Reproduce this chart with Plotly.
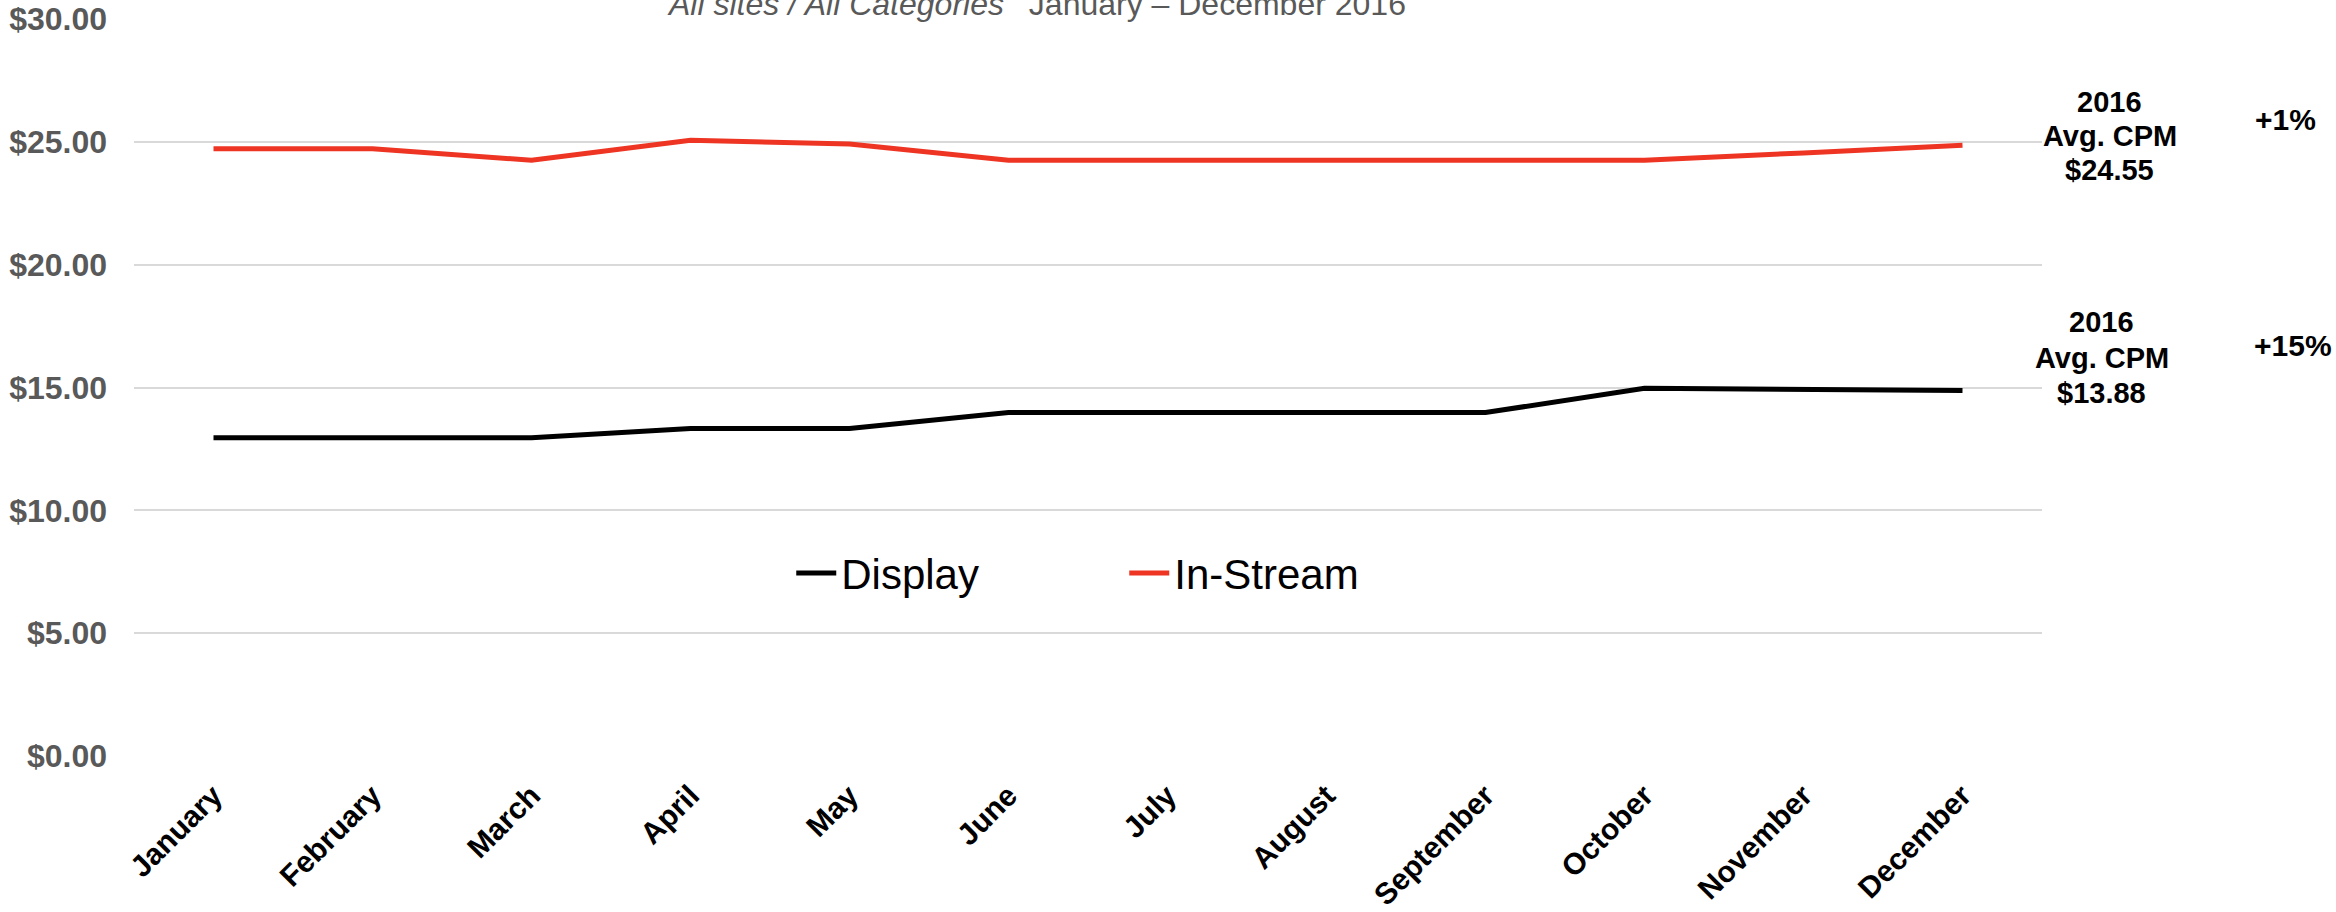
import plotly.graph_objects as go

months = ["January", "February", "March", "April", "May", "June", "July",
          "August", "September", "October", "November", "December"]
display_cpm = [12.95, 12.95, 12.95, 13.33, 13.33, 13.98, 13.98, 13.98, 13.98, 14.97, 14.95, 14.88]
instream_cpm = [24.72, 24.72, 24.25, 25.06, 24.91, 24.25, 24.25, 24.25, 24.25, 24.25, 24.55, 24.86]
avg_labels = ["$24.55", "$13.88"]
change_labels = ["+1%", "+15%"]
year_label = "2016"
avg_caption = "Avg. CPM"
title_italic = "All sites / All Categories’"
title_rest = "  January – December 2016"

FONT = "Liberation Sans, Arial, sans-serif"

fig = go.Figure()
fig.add_trace(go.Scatter(x=months, y=display_cpm, mode="lines", name="Display",
                         line=dict(color="#000000", width=5)))
fig.add_trace(go.Scatter(x=months, y=instream_cpm, mode="lines", name="In-Stream",
                         line=dict(color="#EE3524", width=5)))

annos = []
# title (partly cut off at top, as in reference)
annos.append(dict(xref="paper", yref="paper", x=0.473, y=1.0, xanchor="center", yanchor="bottom",
                  text=f"<i>{title_italic}</i>{title_rest}", showarrow=False,
                  font=dict(family=FONT, size=32, color="#595959"), yshift=-5))

def block(xp, ys, lines):
    for yv, t in zip(ys, lines):
        annos.append(dict(xref="paper", yref="y", x=xp, y=yv, xanchor="center", yanchor="middle",
                          text=f"<b>{t}</b>", showarrow=False,
                          font=dict(family=FONT, size=29, color="#000000")))

block(1.0356, [26.62, 25.23, 23.85], [year_label, avg_caption, avg_labels[0]])
block(1.0314, [17.66, 16.2, 14.77], [year_label, avg_caption, avg_labels[1]])

annos.append(dict(xref="paper", yref="y", x=1.1274, y=25.9, xanchor="center", yanchor="middle",
                  text=f"<b>{change_labels[0]}</b>", showarrow=False,
                  font=dict(family=FONT, size=30, color="#000000")))
annos.append(dict(xref="paper", yref="y", x=1.1316, y=16.73, xanchor="center", yanchor="middle",
                  text=f"<b>{change_labels[1]}</b>", showarrow=False,
                  font=dict(family=FONT, size=30, color="#000000")))

fig.update_layout(
    width=2336, height=912,
    margin=dict(l=134, r=294, t=19, b=156),
    paper_bgcolor="white", plot_bgcolor="white",
    font=dict(family=FONT),
    showlegend=True,
    legend=dict(orientation="h", x=0.519, y=0.248, xanchor="center", yanchor="middle",
                font=dict(family=FONT, size=42, color="#000000"),
                bgcolor="rgba(0,0,0,0)", entrywidth=278, itemwidth=40),
    annotations=annos,
    xaxis=dict(type="category", range=[-0.5, 11.5], showgrid=False, showline=False,
               zeroline=False, ticks="", tickangle=-45, automargin=False,
               tickfont=dict(family=FONT, size=30, color="#000000"),
               ticklabelstandoff=15),
    yaxis=dict(range=[0, 30], dtick=5, tickformat="$.2f", showgrid=True, automargin=False,
               gridcolor="#D9D9D9", gridwidth=2, zeroline=False, showline=False,
               ticks="", tickfont=dict(family=FONT, size=32, color="#595959"),
               ticklabelstandoff=26),
)
fig.update_xaxes(tickprefix="<b>", ticksuffix="</b>")
fig.update_yaxes(tickprefix="<b>", ticksuffix="</b>")

fig.write_html("out.html")
